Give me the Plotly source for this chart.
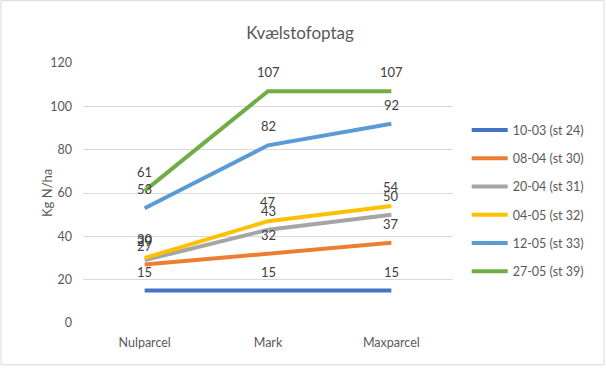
import plotly.graph_objects as go

categories = ["Nulparcel", "Mark", "Maxparcel"]
series_names = ["10-03 (st 24)", "08-04 (st 30)", "20-04 (st 31)", "04-05 (st 32)", "12-05 (st 33)", "27-05 (st 39)"]
s_1003 = [15, 15, 15]
s_0804 = [27, 32, 37]
s_2004 = [29, 43, 50]
s_0405 = [30, 47, 54]
s_1205 = [53, 82, 92]
s_2705 = [61, 107, 107]
y_ticks = [0, 20, 40, 60, 80, 100, 120]

series_values = [s_1003, s_0804, s_2004, s_0405, s_1205, s_2705]
colors = ["#4472C4", "#ED7D31", "#A5A5A5", "#FFC000", "#5B9BD5", "#70AD47"]

FONT = "Lato"
fig = go.Figure()
annotations = []
for i, (name, vals, col) in enumerate(zip(series_names, series_values, colors)):
    fig.add_trace(go.Scatter(
        x=categories, y=vals, name=name, mode="lines",
        line=dict(color=col, width=4), legendgroup=f"g{i}"))
    for c, v in zip(categories, vals):
        annotations.append(dict(x=c, y=v, text=str(v), showarrow=False,
                                yshift=19, font=dict(family=FONT, size=13, color="#404040")))

annotations.append(dict(text="Kg N/ha", textangle=-90, xref="paper", yref="paper",
                        x=(47 - 83) / 370, y=0.5, xanchor="center", yanchor="middle",
                        showarrow=False, font=dict(family=FONT, size=13, color="#595959")))

fig.update_layout(
    width=606, height=368,
    margin=dict(l=83, r=153, t=63, b=45),
    paper_bgcolor="white", plot_bgcolor="white",
    title=dict(text="Kvælstofoptag", x=300 / 606, xanchor="center",
               y=1 - 33 / 368, yanchor="middle",
               font=dict(family=FONT, size=17, color="#595959")),
    xaxis=dict(showgrid=False, showline=False, zeroline=False,
               tickfont=dict(family=FONT, size=12.5, color="#595959"),
               ticks="", ticklabelstandoff=10, range=[-0.5, 2.5]),
    yaxis=dict(range=[0, 120], tickvals=y_ticks, showgrid=True, gridcolor="#D9D9D9",
               gridwidth=1, zeroline=False, showline=False, ticks="",
               ticklabelstandoff=10,
               tickfont=dict(family=FONT, size=12.5, color="#595959")),
    legend=dict(x=1.037, xanchor="left", y=0.47, yanchor="middle",
                traceorder="grouped", tracegroupgap=9,
                font=dict(family=FONT, size=12.5, color="#595959"),
                itemwidth=36),
    annotations=annotations,
    shapes=[dict(type="rect", xref="paper", yref="paper",
                 x0=(1 - 83) / 370, x1=(604 - 83) / 370,
                 y0=(323.3 - 365) / 260, y1=(323.3 - 1) / 260,
                 line=dict(color="#D9D9D9", width=1))],
)
fig.write_html("out.html", config={"displayModeBar": False},
               post_script="document.body.style.margin='0';")
